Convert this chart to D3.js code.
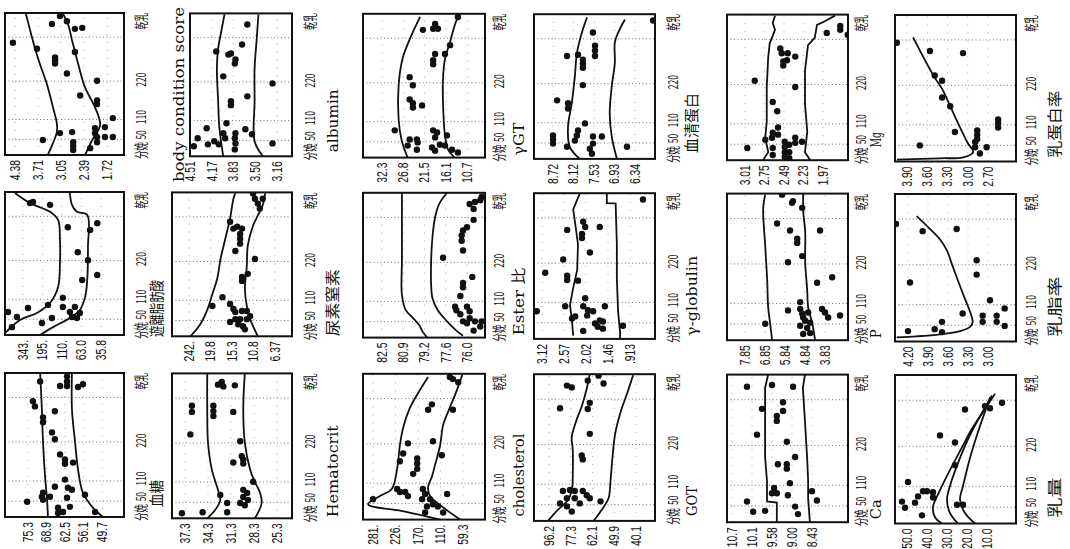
<!DOCTYPE html>
<html>
<head>
<meta charset="utf-8">
<script src="https://cdn.jsdelivr.net/npm/d3@7"></script>
<style>
  body { margin: 0; background: #fff; }
  svg { display: block; }
</style>
</head>
<body>
<svg id="chart" width="1070" height="549"></svg>
<script>
// ---- Day axis (calving -> dry-off) ----
const dayBreaks = [0, 50, 110, 220, 330, 400];
const dayTicks = [0, 50, 110, 220, 375];
const dayLabels = ['分娩', '50', '110', '220', '乾乳'];
const dayGrid = [50, 110, 220, 330];

// ---- Panel data: [day, value] ----
const bcsTicks = ['4.38', '3.71', '3.05', '2.39', '1.72'];
const bcsHi = [[0,3.43],[38,3.28],[72,3.17],[99,3.17],[145,3.28],[213,3.46],[264,3.66],[303,3.80],[354,3.95],[397,4.06]];
const bcsLo = [[0,2.36],[48,2.15],[93,1.92],[145,2.07],[202,2.36],[264,2.56],[321,2.73],[368,2.85],[397,2.99]];
const bcsPts = [[316,4.44],[301,3.74],[368,3.31],[391,3.08],[376,2.88],[354,2.65],[357,2.44],[279,3.22],[272,3.22],[264,3.22],[293,2.65],[239,2.88],[221,2.01],[179,2.50],[165,2.01],[154,2.01],[114,1.55],[84,2.07],[87,1.78],[69,2.07],[48,3.57],[69,3.08],[72,2.73],[41,2.70],[29,2.70],[16,2.70],[57,2.01],[57,1.78],[57,1.55],[22,2.21],[41,2.01]];

const albTicks = ['4.51', '4.17', '3.83', '3.50', '3.16'];
const albHi = [[0,3.99],[87,4.05],[165,4.07],[254,4.09],[303,4.07],[340,4.03],[397,3.97]];
const albLo = [[0,3.38],[48,3.51],[165,3.51],[254,3.51],[321,3.48],[397,3.45]];
const albPts = [[368,3.62],[313,3.70],[296,4.10],[291,3.87],[276,3.80],[288,3.91],[266,3.81],[234,3.99],[216,3.23],[179,3.62],[165,3.87],[154,3.87],[102,3.94],[84,3.65],[69,3.55],[72,3.80],[57,3.81],[72,3.99],[57,3.96],[48,4.13],[38,4.06],[41,3.80],[22,3.81],[41,3.23],[87,4.25],[38,4.23],[57,4.39],[32,4.45]];

const ggtTicks = ['32.3', '26.8', '21.5', '16.1', '10.7'];
const ggtHi = [[0,25.7],[54,27.2],[116,28.0],[213,28.0],[279,27.0],[327,25.2],[391,22.6]];
const ggtLo = [[0,13.8],[25,15.5],[69,16.3],[165,16.8],[229,16.8],[279,16.3],[321,15.0],[368,13.8],[391,13.0]];
const ggtPts = [[391,13.0],[354,21.9],[357,19.3],[357,18.1],[371,18.8],[313,15.0],[291,16.3],[291,18.8],[276,19.3],[266,19.3],[156,22.1],[84,19.3],[78,18.3],[63,18.8],[69,15.8],[32,19.6],[22,18.8],[41,17.6],[38,16.3],[25,14.5],[16,13.0],[213,24.4],[234,25.2],[173,25.2],[162,24.4],[150,24.4],[84,29.0],[57,25.2],[57,23.4],[38,25.7],[48,23.2],[25,23.4]];

const tpTicks = ['8.72', '8.12', '7.53', '6.93', '6.34'];
const tpHi = [[0,7.94],[38,8.23],[99,8.28],[165,8.17],[239,8.08],[296,8.02],[357,7.85],[391,7.73]];
const tpLo = [[0,6.86],[69,7.01],[136,7.07],[213,7.01],[271,6.92],[321,6.92],[357,6.78],[385,6.63]];
const tpPts = [[348,7.56],[288,8.31],[291,7.99],[313,7.50],[301,7.50],[288,7.50],[279,7.85],[269,7.85],[259,7.85],[216,7.85],[173,8.60],[165,8.28],[150,8.28],[108,7.79],[87,7.99],[72,8.02],[72,8.72],[60,8.72],[48,8.72],[57,8.08],[69,7.56],[69,7.30],[48,7.56],[32,7.65],[16,7.59],[38,6.57],[38,8.31],[382,5.82]];

const mgTicks = ['3.01', '2.75', '2.49', '2.23', '1.97'];
const mgHi = [[0,2.77],[25,2.70],[69,2.74],[116,2.72],[213,2.72],[288,2.70],[321,2.68],[340,2.64],[357,2.61],[376,2.64],[397,2.61]];
const mgLo = [[0,2.14],[25,2.21],[87,2.18],[165,2.21],[254,2.21],[316,2.17],[334,2.08],[371,2.05],[382,1.94],[397,1.81]];
const mgPts = [[38,2.98],[229,2.88],[171,2.64],[145,2.58],[99,2.57],[84,2.64],[69,2.65],[78,2.57],[57,2.48],[41,2.48],[25,2.48],[10,2.48],[48,2.42],[25,2.42],[6,2.42],[69,2.34],[54,2.34],[57,2.25],[63,2.74],[38,2.64],[16,2.64],[296,2.52],[279,2.45],[296,2.44],[288,2.34],[276,2.50],[266,2.50],[213,2.34],[308,2.54],[348,1.92],[368,1.74],[357,1.74],[343,1.64]];

const mpTicks = ['3.90', '3.60', '3.30', '3.00', '2.70'];
const mpLine = [[6,4.05],[10,3.41],[13,3.07],[29,2.92],[57,3.00],[105,3.12],[162,3.26],[210,3.38],[244,3.51],[337,3.81]];
const mpPts = [[50,3.71],[303,3.56],[244,3.49],[231,3.38],[186,3.38],[162,3.26],[89,3.19],[298,3.07],[94,2.86],[81,2.86],[69,2.86],[60,2.89],[44,2.89],[25,2.82],[44,2.72],[125,2.55],[114,2.55],[102,2.55],[323,4.05]];

const ffaTicks = ['343.', '195.', '110.', '63.0', '35.8'];
const ffaHi = [[6,480],[48,366],[69,237],[99,162],[145,127],[213,119],[271,119],[321,127],[343,162],[368,290],[397,404]];
const ffaLo = [[0,214],[25,149],[54,91],[78,67],[116,58],[165,55],[254,54],[334,55],[343,74],[363,86],[397,91]];
const ffaPts = [[368,290],[371,267],[363,162],[303,96],[296,51],[313,41],[241,72],[221,54],[179,41],[165,62],[114,108],[87,108],[72,91],[87,79],[69,67],[57,86],[54,74],[54,154],[38,199],[84,305],[57,389],[72,457],[25,427],[93,171]];

const bunTicks = ['242.', '19.8', '15.3', '10.8', '6.37'];
const bunTickVals = [24.2, 19.8, 15.3, 10.8, 6.37];
const bunHi = [[0,23.9],[38,21.9],[84,20.4],[128,19.4],[171,18.4],[226,17.7],[276,16.7],[326,15.7],[382,15.0],[397,14.6]];
const bunLo = [[0,9.9],[54,11.5],[93,12.2],[143,12.6],[207,12.2],[259,12.0],[308,10.9],[334,9.9],[363,8.9],[397,8.4]];
const bunPts = [[397,10.9],[368,9.9],[354,9.5],[382,10.5],[382,8.9],[318,15.7],[301,15.0],[306,14.2],[301,13.2],[288,13.6],[276,13.6],[264,13.6],[246,14.6],[226,10.5],[185,12.0],[176,13.2],[165,13.2],[119,17.3],[93,19.4],[99,15.7],[84,15.0],[45,15.7],[54,13.6],[32,13.0],[54,12.2],[63,11.5],[75,14.6],[78,13.2],[78,12.2],[38,14.0],[22,12.6],[54,14.6]];

const estTicks = ['82.5', '80.9', '79.2', '77.6', '76.0'];
const estHi = [[0,79.0],[22,79.4],[38,79.6],[60,80.1],[84,80.7],[128,81.0],[224,81.0],[306,81.0],[400,81.0]];
const estLo = [[6,76.3],[22,76.8],[51,77.5],[84,78.2],[119,78.6],[156,78.7],[224,78.7],[282,78.6],[331,78.4],[368,78.1],[400,77.5]];
const estPts = [[374,75.4],[379,75.0],[368,75.8],[354,75.5],[388,74.9],[324,75.5],[306,76.0],[298,76.3],[286,76.4],[273,76.4],[249,76.3],[231,77.8],[179,75.6],[162,76.3],[150,76.3],[125,76.5],[94,76.9],[94,76.0],[81,75.8],[84,76.8],[72,76.5],[60,75.8],[51,76.3],[45,76.0],[51,75.4],[51,74.9],[22,75.5],[35,75.0]];

const ggbTicks = ['3.12', '2.57', '2.02', '1.46', '.913'];
const ggbHi = [[10,2.34],[54,2.37],[102,2.42],[151,2.34],[201,2.24],[266,2.22],[316,2.29],[354,2.34],[382,2.24],[400,2.17]];
const ggbLo = [[0,1.16],[22,1.16],[84,1.21],[179,1.24],[266,1.24],[371,1.27],[372,1.49],[400,1.49]];
const ggbPts = [[301,2.49],[321,2.09],[308,2.04],[291,2.12],[281,2.12],[308,1.67],[229,2.59],[246,1.92],[193,3.04],[185,2.49],[173,2.49],[171,2.22],[122,2.04],[99,1.54],[99,2.54],[99,2.09],[87,1.97],[72,1.99],[84,1.84],[84,3.25],[63,2.37],[69,2.29],[48,1.79],[57,1.67],[54,1.59],[38,1.72],[25,2.09],[32,1.59],[41,1.09],[382,0.59]];

const pTicks = ['7.85', '6.85', '5.84', '4.84', '3.83'];
const pHi = [[0,6.49],[51,6.59],[99,6.69],[176,6.74],[264,6.84],[360,6.94],[397,6.84]];
const pLo = [[0,4.33],[54,4.48],[99,4.68],[148,4.73],[224,4.83],[298,4.83],[351,4.93],[400,4.93]];
const pPts = [[397,5.99],[374,5.49],[379,5.44],[360,4.98],[318,6.24],[301,5.59],[301,4.08],[281,5.23],[271,5.23],[239,4.98],[224,5.69],[183,3.47],[168,4.23],[114,5.08],[90,5.69],[81,4.98],[69,4.93],[94,5.08],[84,4.68],[60,4.83],[54,4.58],[94,3.98],[84,3.83],[69,3.67],[75,3.07],[51,6.84],[38,4.73],[22,4.58],[19,4.93],[45,5.08]];

const mfTicks = ['4.20', '3.90', '3.60', '3.30', '3.00'];
const mfLine = [[13,4.37],[16,4.07],[22,3.72],[32,3.42],[45,3.27],[60,3.23],[90,3.27],[128,3.35],[176,3.45],[221,3.54],[256,3.62],[281,3.72],[306,3.87],[338,4.07]];
const mfPts = [[318,4.38],[301,3.98],[306,3.47],[171,4.17],[231,3.17],[193,3.17],[122,2.97],[84,3.38],[78,3.08],[78,2.87],[99,2.75],[60,3.69],[60,3.08],[60,2.87],[48,2.75],[38,3.80],[29,3.69],[32,4.20]];

const gluTicks = ['75.3', '68.9', '62.5', '56.1', '49.7'];
const gluHi = [[0,68.4],[54,68.7],[122,69.4],[219,70.1],[301,70.5],[400,71.1]];
const gluLo = [[0,49.3],[29,52.8],[75,56.3],[143,58.0],[219,59.0],[301,60.1],[400,60.1]];
const gluPts = [[376,71.1],[363,64.2],[391,61.8],[376,61.8],[363,61.8],[360,58.0],[368,56.3],[321,73.6],[308,72.9],[296,66.0],[281,70.1],[269,70.1],[244,67.0],[227,66.0],[185,64.2],[171,62.5],[159,62.5],[162,59.7],[114,62.5],[93,66.0],[75,70.1],[63,70.5],[54,70.1],[48,75.6],[63,67.7],[90,61.5],[84,60.1],[60,61.8],[32,60.8],[29,64.9],[13,64.9],[16,63.2],[69,55.6],[16,52.1]];

const hctTicks = ['37.3', '34.3', '31.3', '28.3', '25.3'];
const hctHi = [[0,34.4],[25,33.4],[57,32.7],[87,33.0],[145,33.8],[221,34.3],[303,34.4],[400,34.4]];
const hctLo = [[0,28.2],[16,27.8],[48,27.3],[78,27.5],[111,28.2],[145,28.8],[221,29.5],[303,29.7],[400,29.5]];
const hctPts = [[376,32.5],[363,32.3],[368,33.0],[366,30.8],[311,33.6],[298,33.6],[286,33.6],[296,31.0],[224,30.1],[183,29.9],[173,29.7],[162,29.7],[165,31.0],[72,32.7],[87,29.7],[78,29.2],[66,29.7],[57,29.1],[48,30.1],[41,29.5],[48,31.8],[19,31.8],[111,28.4],[19,35.0],[311,36.4],[296,36.4],[241,36.6],[16,37.7]];

const choTicks = ['281.', '226.', '170.', '110.', '59.3'];
const choHi = [[0,111],[25,202],[48,293],[72,264],[93,235],[150,222],[216,215],[259,207],[308,190],[354,165],[391,143]];
const choLo = [[0,66],[38,104],[72,138],[99,143],[128,133],[159,125],[216,111],[266,104],[308,89],[354,73],[397,61]];
const choPts = [[63,281],[171,215],[193,207],[221,195],[179,172],[165,172],[150,172],[136,182],[84,215],[84,202],[72,195],[93,222],[391,89],[385,82],[376,70],[316,133],[303,143],[303,82],[226,130],[188,107],[78,95],[93,157],[78,151],[63,159],[63,138],[48,130],[41,117],[22,104],[41,146],[22,151]];

const gotTicks = ['96.2', '77.3', '62.1', '49.9', '40.1'];
const gotHi = [[0,97.1],[32,89.2],[60,80.6],[90,76.6],[138,75.9],[205,75.9],[239,76.6],[281,73.1],[313,69.6],[360,66.1],[400,64.0]];
const gotLo = [[0,61.5],[38,56.5],[69,53.1],[119,52.0],[185,50.9],[246,49.5],[296,47.2],[348,44.0],[397,41.4]];
const gotPts = [[396,58.7],[382,65.4],[374,55.9],[368,80.6],[363,76.6],[321,64.0],[306,65.4],[308,86.6],[246,64.0],[190,69.6],[179,68.9],[90,84.1],[93,78.0],[90,74.5],[90,68.9],[78,66.1],[69,64.0],[69,80.6],[54,86.6],[45,80.6],[29,76.6],[60,57.6],[69,74.5],[54,71.0]];

const caTicks = ['10.7', '10.1', '9.58', '9.00', '8.43'];
const caHi = [[0,9.44],[60,9.44],[63,9.71],[122,9.71],[188,9.76],[277,9.76],[363,9.76],[400,9.68]];
const caLo = [[0,8.49],[72,8.54],[122,8.54],[188,8.57],[277,8.63],[363,8.69],[400,8.63]];
const caPts = [[366,10.25],[371,9.58],[366,8.97],[308,9.84],[324,9.26],[303,9.26],[291,9.44],[279,9.44],[246,9.97],[229,9.15],[188,8.91],[168,9.41],[168,9.15],[156,9.15],[116,9.06],[87,9.58],[87,9.44],[102,9.52],[81,9.12],[93,8.43],[66,8.29],[63,10.25],[48,8.91],[25,8.83],[32,10.07],[35,9.76]];

const myTicks = ['50.0', '40.0', '30.0', '20.0', '10.0'];
const myHi = [[0,32.5],[19,36.0],[51,37.0],[87,34.5],[139,30.0],[207,23.5],[266,17.0],[316,10.0],[348,6.0]];
const myMid = [[0,24.5],[32,28.5],[72,30.0],[111,28.5],[188,23.5],[247,18.5],[343,7.5]];
const myLo = [[0,16.0],[32,21.0],[72,23.5],[111,22.0],[188,18.5],[247,15.0],[338,8.5]];
const myPts = [[324,2.5],[311,8.5],[316,11.0],[308,21.0],[246,33.5],[229,26.0],[168,26.0],[122,49.5],[66,52.5],[48,51.0],[63,46.0],[81,44.5],[96,42.0],[96,40.0],[93,37.0],[78,37.0],[25,42.5],[57,25.0],[57,22.0]];

// ---- Panels (row, col on the page; tick = first/last tick offset in px from box edge) ----
const panels = [
  {row:0, col:0, title:'body condition score', ticks:bcsTicks, pts:bcsPts, lines:[bcsHi, bcsLo], tick:[10,102], tx:179, toff:27, tlen:175},
  {row:0, col:1, title:'albumin', ticks:albTicks, pts:albPts, lines:[albHi, albLo], x0:190, tick:[0,87], toff:-4, tlen:63},
  {row:0, col:2, title:'γGT', ticks:ggtTicks, pts:ggtPts, lines:[ggtHi, ggtLo], tick:[19,104], toff:-2, tlen:33},
  {row:0, col:3, title:'血清蛋白', ticks:tpTicks, pts:tpPts, lines:[tpHi, tpLo], tick:[19,101], toff:-6, tlen:60},
  {row:0, col:4, title:'Mg', ticks:mgTicks, pts:mgPts, lines:[mgHi, mgLo], tick:[18,96], toff:-13, tlen:15, linear:true},
  {row:0, col:5, title:'乳蛋白率', ticks:mpTicks, pts:mpPts, lines:[mpLine], tick:[12,93], toff:-4, tlen:67},
  {row:1, col:0, title:'遊離脂肪酸', ticks:ffaTicks, pts:ffaPts, lines:[ffaHi, ffaLo], tick:[18,96], toff:2, tlen:57},
  {row:1, col:1, title:'尿素窒素', ticks:bunTicks, tickVals:bunTickVals, pts:bunPts, lines:[bunHi, bunLo], tick:[17,103], toff:0, tlen:67},
  {row:1, col:2, title:'Ester 比', ticks:estTicks, pts:estPts, lines:[estHi, estLo], tick:[19,104], toff:-2, tlen:68},
  {row:1, col:3, title:'γ-globulin', ticks:ggbTicks, pts:ggbPts, lines:[ggbHi, ggbLo], tick:[8,96], toff:-3, tlen:80, linear:true},
  {row:1, col:4, title:'P', ticks:pTicks, pts:pPts, lines:[pHi, pLo], tick:[18,98], toff:-2, tlen:9},
  {row:1, col:5, title:'乳脂率', ticks:mfTicks, pts:mfPts, lines:[mfLine], tick:[13,93], toff:-5, tlen:60},
  {row:2, col:0, title:'血糖', ticks:gluTicks, pts:gluPts, lines:[gluHi, gluLo], tick:[23,97], toff:-10, tlen:27},
  {row:2, col:1, title:'Hematocrit', ticks:hctTicks, pts:hctPts, lines:[hctHi, hctLo], tick:[13,105], toff:-1, tlen:92},
  {row:2, col:2, title:'cholesterol', ticks:choTicks, pts:choPts, lines:[choHi, choLo], tick:[10,100], toff:-3, tlen:83},
  {row:2, col:3, title:'GOT', ticks:gotTicks, pts:gotPts, lines:[gotHi, gotLo], tick:[15,102], toff:-5, tlen:30},
  {row:2, col:4, title:'Ca', ticks:caTicks, pts:caPts, lines:[caHi, caLo], tick:[5,85], toff:-3, tlen:20, linear:true},
  {row:2, col:5, title:'乳量', ticks:myTicks, pts:myPts, lines:[myHi, myMid, myLo], tick:[12,92], toff:-6, tlen:40}
];

// ---- Page layout (screen coordinates, before rotation) ----
const W = 1070, H = 549;
const colX0 = [5, 172, 363, 534, 727, 895];
const colX1 = [124, 292, 485, 655, 848, 1016];
const rowTop = [13, 192, 373];
const rowBot = [155, 335, 517];
const labelX = [141, 310, 499, 673, 861, 1031];
const titleX = [157, 333, 519, 692, 876, 1055];
const dayFracs = [0, 0.11, 0.25, 0.52, 0.83, 1];
const dayNudge = [4, 4, 2, 1, 0];

const svg = d3.select('#chart');
// the whole figure is printed turned 90° counter-clockwise
const root = svg.append('g').attr('transform', `translate(0,${H}) rotate(-90)`);
const defs = svg.append('defs');

const isCJK = s => /[\u3000-\u9fff]/.test(s);

function squeeze(sel, k) {
  sel.each(function() {
    const len = this.getComputedTextLength();
    d3.select(this).attr('textLength', len * k).attr('lengthAdjust', 'spacingAndGlyphs');
  });
}

panels.forEach((p, i) => {
  const c = p.col, r = p.row;
  const sy0 = rowTop[r] + c * 0.4, sy1 = rowBot[r] + c * 1.3;
  const sx0 = p.x0 || colX0[c];
  // rotated frame: x runs along days, y runs along values
  const left = H - sy1, right = H - sy0, top = sx0, bottom = colX1[c];

  const x = d3.scaleLinear().domain(dayBreaks)
    .range(dayFracs.map(f => left + f * (right - left)));
  const vals = p.tickVals || p.ticks.map(Number);
  const y = d3.scaleLinear().domain(vals)
    .range(vals.map((_, k) => top + p.tick[0] + k * (p.tick[1] - p.tick[0]) / 4));

  const g = root.append('g');
  defs.append('clipPath').attr('id', `clip${i}`)
    .append('rect').attr('x', left).attr('y', top).attr('width', right - left).attr('height', bottom - top);

  // faint value grid
  g.append('g').selectAll('line').data(vals).join('line')
    .attr('x1', left).attr('x2', right)
    .attr('y1', d => y(d)).attr('y2', d => y(d))
    .attr('stroke', '#999').attr('stroke-width', 0.8).attr('stroke-dasharray', '1,7');
  // day grid
  g.append('g').selectAll('line').data(dayGrid).join('line')
    .attr('x1', d => x(d)).attr('x2', d => x(d))
    .attr('y1', top).attr('y2', bottom)
    .attr('stroke', '#666').attr('stroke-width', 0.9).attr('stroke-dasharray', '1,2.5');

  const plot = g.append('g').attr('clip-path', `url(#clip${i})`);
  const line = d3.line().x(d => x(d[0])).y(d => y(d[1]))
    .curve(p.linear ? d3.curveLinear : d3.curveCatmullRom.alpha(0.5));
  plot.selectAll('path.band').data(p.lines).join('path')
    .attr('class', 'band').attr('d', line)
    .attr('fill', 'none').attr('stroke', '#111').attr('stroke-width', 1.8);
  plot.selectAll('circle').data(p.pts).join('circle')
    .attr('cx', d => x(d[0])).attr('cy', d => y(d[1])).attr('r', 3.2).attr('fill', '#111');

  g.append('rect').attr('x', left).attr('y', top)
    .attr('width', right - left).attr('height', bottom - top)
    .attr('fill', 'none').attr('stroke', '#111').attr('stroke-width', 2);

  // value axis (below each box on the page)
  const ya = g.append('g').attr('transform', `translate(${left},0)`)
    .call(d3.axisLeft(y).tickValues(vals).tickFormat((d, k) => p.ticks[k]).tickSize(0).tickPadding(5));
  ya.select('.domain').remove();
  ya.selectAll('text').attr('font-family', 'Liberation Sans, Arial, sans-serif')
    .attr('font-size', 14).attr('fill', '#111');
  squeeze(ya.selectAll('text'), 0.74);

  // day axis (to the right of each box on the page)
  const xa = g.append('g').attr('transform', `translate(0,${labelX[c]})`)
    .call(d3.axisBottom(x).tickValues(dayTicks).tickFormat((d, k) => dayLabels[k]).tickSize(0).tickPadding(0));
  xa.select('.domain').remove();
  xa.selectAll('text').attr('dy', '0.35em')
    .attr('font-family', 'Noto Sans CJK JP, Liberation Sans, sans-serif')
    .attr('font-size', 13.5).attr('fill', '#111')
    .attr('dx', (d, k) => dayNudge[k]);
  squeeze(xa.selectAll('text'), 0.62);

  // panel title
  const cjk = isCJK(p.title) && !/[a-z]/i.test(p.title);
  g.append('text')
    .attr('x', left - p.toff).attr('y', p.tx || titleX[c]).attr('dy', '0.35em')
    .attr('font-family', cjk ? 'Noto Sans CJK JP, sans-serif' : 'DejaVu Serif, Noto Sans CJK JP, serif')
    .attr('font-size', 15).attr('fill', '#111')
    .attr('textLength', p.tlen).attr('lengthAdjust', 'spacingAndGlyphs')
    .text(p.title);
});
</script>
</body>
</html>
